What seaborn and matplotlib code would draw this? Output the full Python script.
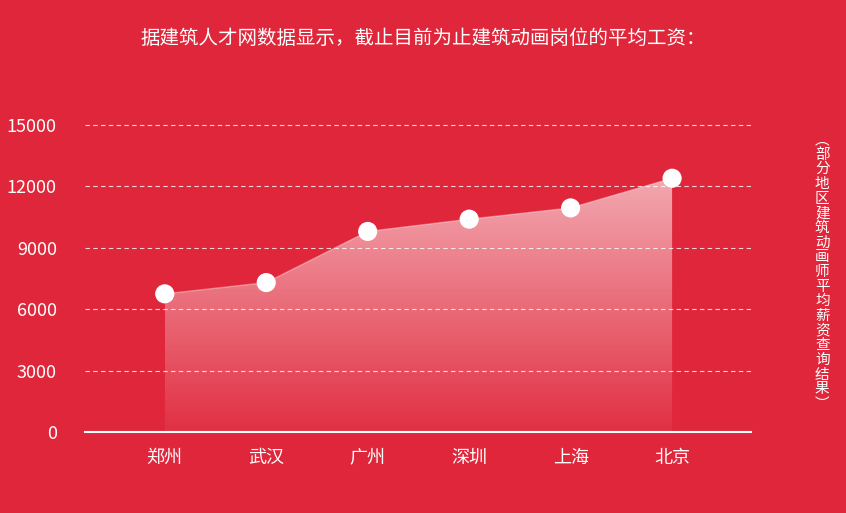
import numpy as np
import matplotlib
matplotlib.use("Agg")
import matplotlib.pyplot as plt
import seaborn as sns
from matplotlib.patches import Polygon

cities = ["郑州", "武汉", "广州", "深圳", "上海", "北京"]
salary = [6750, 7300, 9800, 10400, 10950, 12400]
yticks = [0, 3000, 6000, 9000, 12000, 15000]
title = "据建筑人才网数据显示，截止目前为止建筑动画岗位的平均工资："
side_note = "︵部分地区建筑动画师平均薪资查询结果︶"

sns.set_style("white")
plt.rcParams['font.family'] = ['Noto Sans CJK SC', 'DejaVu Sans']
bg = "#E0263A"

fig = plt.figure(figsize=(8.46, 5.13), dpi=100, facecolor=bg)
ax = fig.add_axes([0.1, 0.158, 0.788, 0.678])
ax.set_facecolor(bg)
x = np.arange(len(cities))

ax.set_xlim(-0.79, 5.78)
ax.set_ylim(0, 17000)

# gradient fill under the line
grad = np.zeros((100, 1, 4))
grad[:, 0, :3] = 1
grad[:, 0, 3] = np.linspace(0.6, 0.05, 100)
img = ax.imshow(grad, aspect="auto", extent=[x[0], x[-1], 0, max(salary)],
                origin="upper", zorder=2)
poly = Polygon(list(zip(x, salary)) + [(x[-1], 0), (x[0], 0)], closed=True,
               facecolor="none", edgecolor="none")
ax.add_patch(poly)
img.set_clip_path(poly)

sns.lineplot(x=x, y=salary, ax=ax, color=(1, 1, 1, 0.35), lw=1, zorder=3)
sns.scatterplot(x=x, y=salary, ax=ax, color="white", s=190, edgecolor="none", zorder=4)

for t in yticks[1:]:
    ax.axhline(t, color="white", lw=0.8, ls=(0, (4, 3)), alpha=0.8, zorder=1)
for s in ["top", "right", "left"]:
    ax.spines[s].set_visible(False)
ax.spines["bottom"].set_color("white")
ax.spines["bottom"].set_linewidth(1.5)

ax.set_yticks(yticks)
ax.set_yticklabels([str(t) for t in yticks], color="white", fontsize=13)
ax.set_xticks(x)
ax.set_xticklabels(cities, color="white", fontsize=13)
ax.tick_params(axis="y", length=0, pad=20)
ax.tick_params(axis="x", length=0, pad=12)

fig.text(0.5, 0.925, title, color="white", fontsize=14, ha="center", va="center")
fig.text(0.972, 0.47, "\n".join(side_note), color="white", fontsize=10.5,
         ha="center", va="center", linespacing=1.06)

fig.savefig("out.png", dpi=100, facecolor=bg)
